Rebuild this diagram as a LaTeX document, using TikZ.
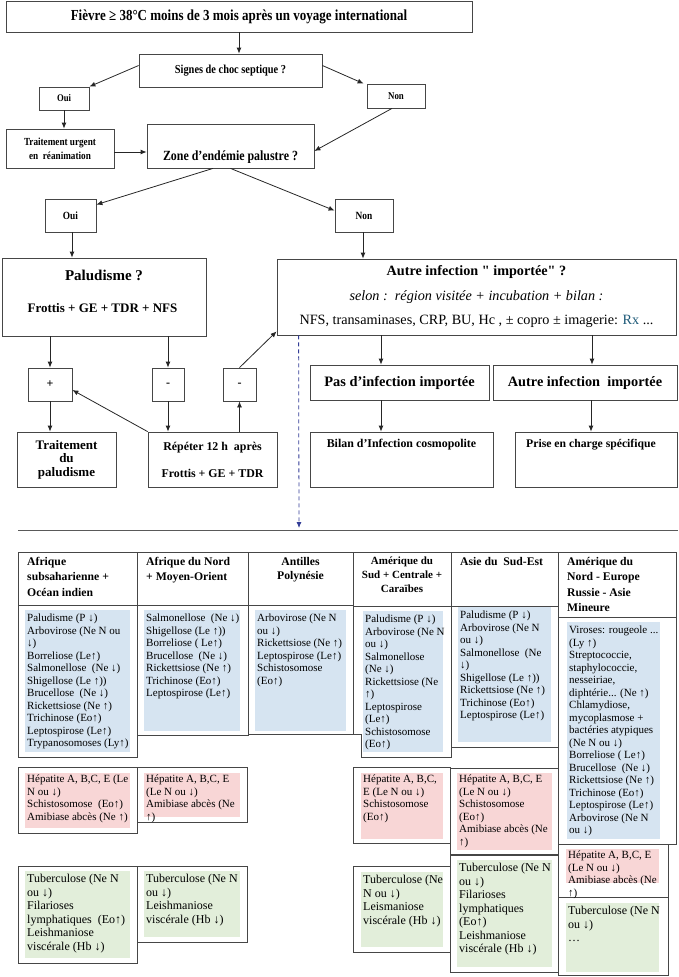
\documentclass[tikz,border=0pt]{standalone}
\usepackage{fontspec}
\setmainfont{Liberation Serif}
\newfontfamily\flowfont[FakeStretch=0.85]{Liberation Serif}
\usetikzlibrary{arrows.meta}
\definecolor{boxgray}{RGB}{70,70,70}
\definecolor{cellblue}{RGB}{214,228,241}
\definecolor{cellpink}{RGB}{248,214,214}
\definecolor{cellgreen}{RGB}{226,238,218}
\definecolor{rxteal}{RGB}{30,90,120}
\definecolor{dashblue}{RGB}{50,60,150}
\newcommand{\fsz}[2]{\fontsize{#1}{#2}\selectfont}
\newcommand{\dq}{{\addfontfeatures{Ligatures=TeXOff}"}}

\begin{document}
\begin{tikzpicture}[x=1pt, y=-1pt,
    box/.style={draw=boxgray, line width=0.8pt, inner sep=1pt, align=center},
    lbl/.style={inner sep=0pt, align=center},
    arr/.style={draw=black!85, line width=0.8pt, -{Latex[length=6pt, width=5pt]}},
    dasharr/.style={draw=dashblue, line width=0.8pt, dash pattern=on 4pt off 3pt,
                    -{Latex[length=6pt, width=5pt]}},
    sepline/.style={draw=black!65, line width=1pt},
    cell/.style={draw=boxgray, line width=0.8pt},
    hdr/.style={inner sep=0pt, align=left, font=\bfseries\fsz{11.7}{15.5}},
    celltext/.style={anchor=north west, inner sep=0pt, align=left, font=\fsz{11}{12.5}},
    celltextg/.style={anchor=north west, inner sep=0pt, align=left, font=\fsz{12}{13.5}},
  ]
    \useasboundingbox (0,0) rectangle (678,977);
    % decision tree
    \node[box, minimum width=466pt, minimum height=31pt, font=\flowfont\bfseries\fsz{15.3}{18}]
      (fievre) at (239,16.5) {Fièvre ≥ 38°C moins de 3 mois après un voyage international};
    \node[box, minimum width=183pt, minimum height=33pt, font=\flowfont\bfseries\fsz{12.2}{14}]
      (choc) at (230.5,70.5) {Signes de choc septique ?};
    \node[box, minimum width=50pt, minimum height=23pt, font=\flowfont\bfseries\fsz{10.2}{12}]
      (oui1) at (64,98.5) {Oui};
    \node[box, minimum width=58pt, minimum height=24pt, font=\flowfont\bfseries\fsz{10.4}{12}]
      (non1) at (396,96) {Non};
    \node[box, minimum width=108pt, minimum height=39pt, font=\flowfont\bfseries\fsz{10.8}{14}]
      (rea) at (60,148.5) {Traitement urgent\\en~~réanimation};
    \node[box, minimum width=167pt, minimum height=44pt] (zone) at (230.5,146) {};
    \node[lbl, font=\flowfont\bfseries\fsz{14}{16}] (zonetxt) at ([yshift=11pt]zone.south)
      {Zone d’endémie palustre ?};
    \node[box, minimum width=51pt, minimum height=33pt, font=\flowfont\bfseries\fsz{11}{13}]
      (oui2) at (70.5,215.5) {Oui};
    \node[box, minimum width=58pt, minimum height=33pt, font=\flowfont\bfseries\fsz{11}{13}]
      (non2) at (364,215.5) {Non};
    % paludisme branch
    \node[box, minimum width=204pt, minimum height=78pt] (palu) at (104,297) {};
    \node[lbl, font=\bfseries\fsz{15}{18}] (palutxt) at (104,275) {Paludisme ?};
    \node[lbl, font=\bfseries\fsz{13}{15}] (frottis) at (102.5,308) {Frottis + GE + TDR + NFS};
    \node[box, minimum width=44pt, minimum height=33pt, font=\bfseries\fsz{12}{14}] (plus) at (50,384.5) {+};
    \node[box, minimum width=32pt, minimum height=33pt, font=\bfseries\fsz{12}{14}] (moins1) at (168,384.5) {-};
    \node[box, minimum width=33pt, minimum height=33pt, font=\bfseries\fsz{12}{14}] (moins2) at (239.5,384.5) {-};
    \node[box, minimum width=99pt, minimum height=55pt, font=\bfseries\fsz{13}{13.5}]
      (traitpalu) at (66.5,459.5) {Traitement\\du\\paludisme};
    \node[box, minimum width=129pt, minimum height=55pt, font=\bfseries\fsz{11.9}{27}]
      (repeter) at (212.5,459.5) {Répéter 12 h~~après\\Frottis + GE + TDR};
    % other imported infection branch
    \node[box, minimum width=399pt, minimum height=76pt, font=\fsz{14.2}{24.5}] (autre) at (476.5,297)
      {\textbf{Autre infection \dq{} importée\dq{} ?}\\
       \textit{selon :~~région visitée + incubation + bilan :}\\
       NFS, transaminases, CRP, BU, Hc , ± copro ± imagerie: \textcolor{rxteal}{Rx} ...};
    \node[box, minimum width=179pt, minimum height=35pt, font=\bfseries\fsz{14.4}{17}]
      (pasimp) at (399.5,382.5) {Pas d’infection importée};
    \node[box, minimum width=184pt, minimum height=35pt, font=\bfseries\fsz{14.3}{17}]
      (autreimp) at (585,382.5) {Autre infection~~importée};
    \node[box, minimum width=183pt, minimum height=55pt] (bilan) at (401.5,459.5) {};
    \node[lbl, font=\bfseries\fsz{11.9}{14}] (bilantxt) at ([yshift=-13pt]bilan.north)
      {Bilan d’Infection cosmopolite};
    \node[box, minimum width=162pt, minimum height=55pt] (prise) at (596,459.5) {};
    \node[lbl, font=\bfseries\fsz{11.7}{14}] (prisetxt) at ([xshift=-5pt, yshift=-13pt]prise.north)
      {Prise en charge spécifique};
    % connectors
    \draw[arr] (fievre.south) -- (fievre.south |- choc.north);
    \draw[arr] ([yshift=5pt]choc.west) -- (oui1.north east);
    \draw[arr] ([yshift=5pt]choc.east) -- ([xshift=-3pt]non1.north west);
    \draw[arr] (oui1.south) -- (oui1.south |- rea.north);
    \draw[arr] ([yshift=-3.5pt]rea.east) -- ([yshift=-3.5pt]rea.east -| zone.west);
    \draw[arr] ([xshift=-4pt]non1.south) -- ([yshift=-5pt]zone.east);
    \draw[arr] ([xshift=-17.5pt]zone.south) -- ([yshift=-6pt]oui2.north east);
    \draw[arr] (zone.south) -- ([yshift=-12pt]non2.north west);
    \draw[arr] ([xshift=1.5pt]oui2.south) -- ([xshift=1.5pt]oui2.south |- palu.north);
    \draw[arr] ([xshift=-1pt]non2.south) -- ([xshift=-1pt]non2.south |- autre.north);
    \draw[arr] (plus.north |- palu.south) -- (plus.north);
    \draw[arr] (moins1.north |- palu.south) -- (moins1.north);
    \draw[arr] (plus.south) -- (plus.south |- traitpalu.north);
    \draw[arr] (moins1.south) -- (moins1.south |- repeter.north);
    \draw[arr] (moins2.south |- repeter.north) -- (moins2.south);
    \draw[arr] (repeter.north west) -- ([yshift=-5.5pt]plus.east);
    \draw[arr] (moins2.north) -- ([yshift=4pt]autre.south west);
    \draw[arr] ([xshift=-18.5pt]pasimp.north |- autre.south) -- ([xshift=-18.5pt]pasimp.north);
    \draw[arr] ([xshift=7pt]autreimp.north |- autre.south) -- ([xshift=7pt]autreimp.north);
    \draw[arr] ([xshift=-18.5pt]pasimp.south) -- ([xshift=-18.5pt]pasimp.south |- bilan.north);
    \draw[arr] ([xshift=6pt]autreimp.south) -- ([xshift=6pt]autreimp.south |- prise.north);
    % separator and link to the table
    \coordinate (sepL) at (18,530);
    \coordinate (sepR) at (678,530);
    \coordinate (dashend) at (299,528);
    \draw[dasharr] ([xshift=22pt]autre.south west) -- (dashend);
    \draw[sepline] (sepL) -- (sepR);
    % table: coloured cells
    \foreach \xa/\ya/\xb/\yb in {25/610/130/752, 144/610/240/731, 255/610/346/731,
        363/611/443/752, 458/607/551/742, 567/622/660/839}
      \fill[cellblue] (\xa,\ya) rectangle (\xb,\yb);
    \foreach \xa/\ya/\xb/\yb in {25/773/130/828, 144/773/240/817, 361/773/443/839,
        457/773/552/850, 566/849/659/883}
      \fill[cellpink] (\xa,\ya) rectangle (\xb,\yb);
    \foreach \xa/\ya/\xb/\yb in {25/871/130/958, 144/871/240/937, 361/872/443/947,
        457/860/552/967, 566/903/659/972}
      \fill[cellgreen] (\xa,\ya) rectangle (\xb,\yb);
    % table: frames
    \foreach \xa/\ya/\xb/\yb in {18/552/137/605, 137/552/248/605, 248/552/353/605,
        353/552/451/606, 451/552/558/606, 558/552/676/617,
        18/605/137/757, 137/605/248/735, 451/606/558/747, 558/617/676/844,
        18/767/137/833, 137/767/247/822, 353/767/450/843, 450/768/558/854, 558/844/668/897,
        18/866/137/963, 137/866/247/942, 353/866/450/952, 450/855/558/972, 558/897/668/975}
      \draw[cell] (\xa,\ya) rectangle (\xb,\yb);
    \draw[cell] (248,605) -- (248,734) -- (361,734) -- (361,757) -- (451,757) -- (451,606);
    \draw[cell] (353,605) -- (353,734);
    % table: column headers
    \node[hdr, anchor=north west] (hafr) at (27,557) {Afrique\\subsaharienne +\\Océan indien};
    \node[hdr, anchor=north west] (hnord) at (146,557) {Afrique du Nord\\+ Moyen-Orient};
    \node[hdr, anchor=north, align=center, font=\bfseries\fsz{11.7}{14.5}] (hant) at (300.5,557)
      {Antilles\\Polynésie};
    \node[hdr, anchor=north, align=center, font=\bfseries\fsz{11}{14}] (hsud) at (402,557)
      {Amérique du\\Sud + Centrale +\\Caraïbes};
    \node[hdr, anchor=north west] (hasie) at (460,557) {Asie du~~Sud-Est};
    \node[hdr, anchor=north west] (hnam) at (567,557) {Amérique du\\Nord - Europe\\Russie - Asie\\Mineure};
    % table: blue cells
    \node[celltext] (bafr) at (27,614) {Paludisme (P ↓)\\Arbovirose (Ne N ou\\↓)\\Borreliose (Le↑)\\
      Salmonellose~~(Ne ↓)\\Shigellose (Le ↑))\\Brucellose~~(Ne ↓)\\Rickettsiose (Ne ↑)\\
      Trichinose (Eo↑)\\Leptospirose (Le↑)\\Trypanosomoses (Ly↑)};
    \node[celltext] (bnord) at (146,614) {Salmonellose~~(Ne ↓)\\Shigellose (Le ↑))\\Borreliose ( Le↑)\\
      Brucellose~~(Ne ↓)\\Rickettsiose (Ne ↑)\\Trichinose (Eo↑)\\Leptospirose (Le↑)};
    \node[celltext] (bant) at (257,614) {Arbovirose (Ne N\\ou ↓)\\Rickettsiose (Ne ↑)\\
      Leptospirose (Le↑)\\Schistosomose\\(Eo↑)};
    \node[celltext] (bsud) at (365,615) {Paludisme (P ↓)\\Arbovirose (Ne N\\ou ↓)\\Salmonellose\\(Ne ↓)\\
      Rickettsiose (Ne\\↑)\\Leptospirose\\(Le↑)\\Schistosomose\\(Eo↑)};
    \node[celltext] (basie) at (460,611) {Paludisme (P ↓)\\Arbovirose (Ne N\\ou ↓)\\Salmonellose~~(Ne\\↓)\\
      Shigellose (Le ↑))\\Rickettsiose (Ne ↑)\\Trichinose (Eo↑)\\Leptospirose (Le↑)};
    \node[celltext] (bnam) at (569,626) {Viroses: rougeole ...\\(Ly ↑)\\Streptococcie,\\staphylococcie,\\
      nesseiriae,\\diphtérie... (Ne ↑)\\Chlamydiose,\\mycoplasmose +\\bactéries atypiques\\(Ne N ou ↓)\\
      Borreliose ( Le↑)\\Brucellose~~(Ne ↓)\\Rickettsiose (Ne ↑)\\Trichinose (Eo↑)\\
      Leptospirose (Le↑)\\Arbovirose (Ne N\\ou ↓)};
    % table: pink cells
    \node[celltext] (pafr) at (27,775) {Hépatite A, B,C, E (Le\\N ou ↓)\\Schistosomose~~(Eo↑)\\Amibiase abcès (Ne ↑)};
    \node[celltext] (pnord) at (146,775) {Hépatite A, B,C, E\\(Le N ou ↓)\\Amibiase abcès (Ne\\↑)};
    \node[celltext] (psud) at (363,775) {Hépatite A, B,C,\\E (Le N ou ↓)\\Schistosomose\\(Eo↑)};
    \node[celltext] (pasie) at (459,775) {Hépatite A, B,C, E\\(Le N ou ↓)\\Schistosomose\\(Eo↑)\\Amibiase abcès (Ne\\↑)};
    \node[celltext] (pnam) at (568,851) {Hépatite A, B,C, E\\(Le N ou ↓)\\Amibiase abcès (Ne\\↑)};
    % table: green cells
    \node[celltextg] (gafr) at (27,874) {Tuberculose (Ne N\\ou ↓)\\Filarioses\\lymphatiques~~(Eo↑)\\
      Leishmaniose\\viscérale (Hb ↓)};
    \node[celltextg] (gnord) at (146,874) {Tuberculose (Ne N\\ou ↓)\\Leishmaniose\\viscérale (Hb ↓)};
    \node[celltextg] (gsud) at (363,875) {Tuberculose (Ne\\N ou ↓)\\Leismaniose\\viscérale (Hb ↓)};
    \node[celltextg] (gasie) at (459,863) {Tuberculose (Ne N\\ou ↓)\\Filarioses\\lymphatiques\\(Eo↑)\\
      Leishmaniose\\viscérale (Hb ↓)};
    \node[celltextg] (gnam) at (568,906) {Tuberculose (Ne N\\ou ↓)\\…};
\end{tikzpicture}
\end{document}
